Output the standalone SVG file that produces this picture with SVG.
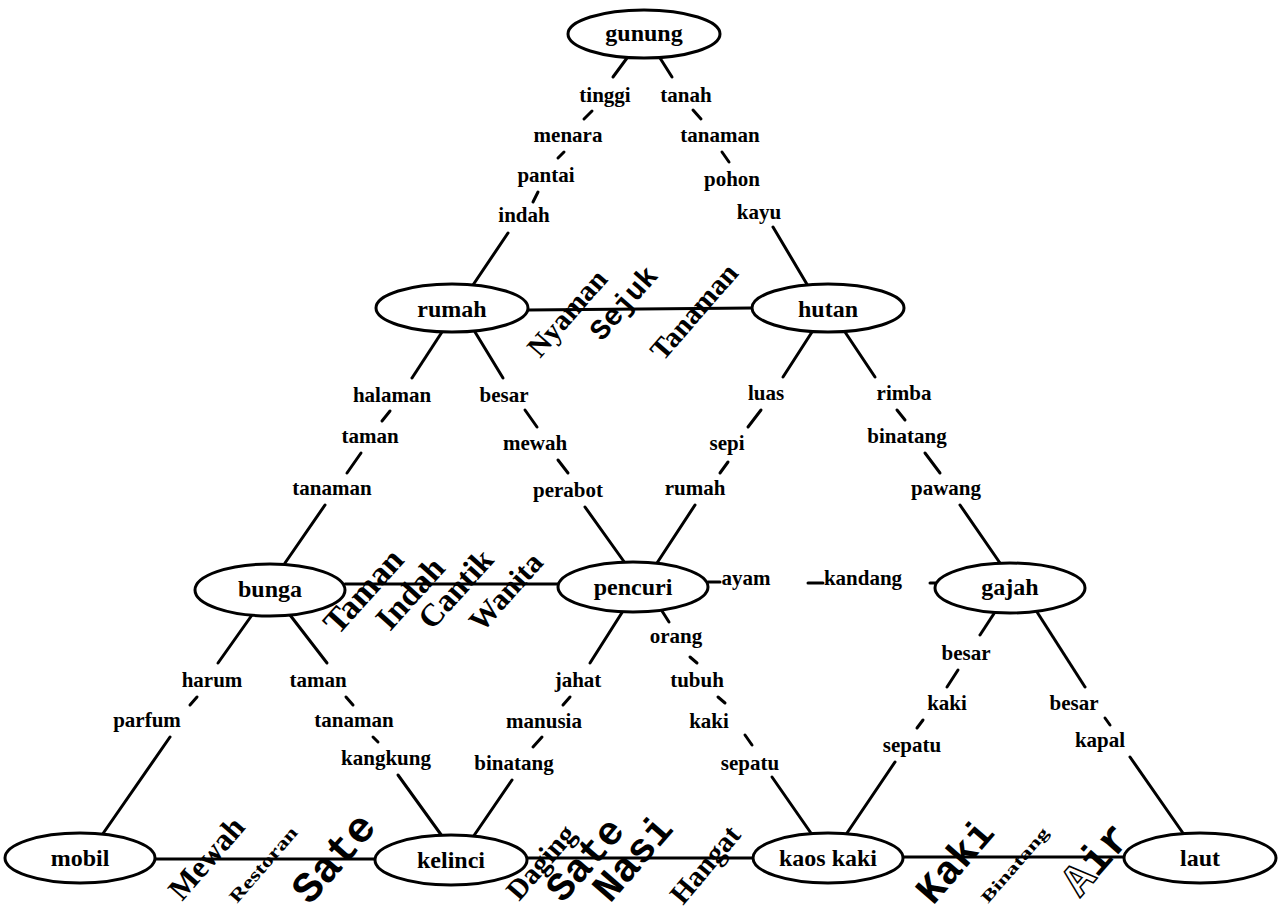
<svg xmlns="http://www.w3.org/2000/svg" width="1280" height="912" viewBox="0 0 1280 912">
<style>
.n ellipse{fill:#fff;stroke:#000;stroke-width:3}
.n text{font-family:"Liberation Serif",serif;font-weight:bold;font-size:24px;text-anchor:middle;fill:#000}
.c line{stroke:#000;stroke-width:3;stroke-linecap:round}
.w{font-family:"Liberation Serif",serif;font-weight:bold;font-size:21px;text-anchor:middle;fill:#000}
.r{font-family:"Liberation Serif",serif;font-weight:bold;fill:#000}
.m{font-family:"Liberation Mono",monospace;font-weight:bold;fill:#000}
</style>
<rect width="1280" height="912" fill="#fff"/>
<g class="c" id="connectors">
<line x1="528" y1="310" x2="752" y2="308"/>
<line x1="345" y1="584" x2="558" y2="584"/>
<line x1="708" y1="582" x2="720" y2="582"/>
<line x1="808" y1="583" x2="823" y2="583"/>
<line x1="930" y1="583" x2="936" y2="583"/>
<line x1="155" y1="859" x2="375" y2="859"/>
<line x1="527" y1="858" x2="753" y2="858"/>
<line x1="903" y1="857" x2="1124" y2="857"/>
<line x1="627" y1="58" x2="613" y2="77"/>
<line x1="592" y1="111" x2="584" y2="119"/>
<line x1="564" y1="152" x2="558" y2="158"/>
<line x1="538" y1="192" x2="533" y2="202"/>
<line x1="508" y1="233" x2="473" y2="285"/>
<line x1="660" y1="58" x2="672" y2="77"/>
<line x1="693" y1="110" x2="701" y2="119"/>
<line x1="722" y1="152" x2="729" y2="162"/>
<line x1="773" y1="227" x2="808" y2="286"/>
<line x1="442" y1="332" x2="412" y2="378"/>
<line x1="390" y1="411" x2="382" y2="421"/>
<line x1="361" y1="453" x2="347" y2="473"/>
<line x1="325" y1="505" x2="285" y2="563"/>
<line x1="475" y1="332" x2="503" y2="378"/>
<line x1="525" y1="410" x2="537" y2="427"/>
<line x1="558" y1="460" x2="568" y2="473"/>
<line x1="585" y1="507" x2="625" y2="563"/>
<line x1="812" y1="332" x2="783" y2="377"/>
<line x1="761" y1="410" x2="748" y2="427"/>
<line x1="728" y1="462" x2="720" y2="473"/>
<line x1="695" y1="505" x2="657" y2="563"/>
<line x1="845" y1="332" x2="875" y2="377"/>
<line x1="897" y1="410" x2="905" y2="420"/>
<line x1="925" y1="453" x2="940" y2="473"/>
<line x1="960" y1="505" x2="1000" y2="563"/>
<line x1="252" y1="615" x2="218" y2="663"/>
<line x1="197" y1="697" x2="190" y2="705"/>
<line x1="170" y1="737" x2="102" y2="835"/>
<line x1="290" y1="615" x2="327" y2="663"/>
<line x1="346" y1="697" x2="353" y2="705"/>
<line x1="373" y1="737" x2="378" y2="742"/>
<line x1="398" y1="775" x2="442" y2="836"/>
<line x1="623" y1="611" x2="590" y2="663"/>
<line x1="570" y1="697" x2="563" y2="705"/>
<line x1="542" y1="737" x2="533" y2="747"/>
<line x1="512" y1="780" x2="473" y2="837"/>
<line x1="662" y1="611" x2="669" y2="622"/>
<line x1="690" y1="657" x2="697" y2="663"/>
<line x1="718" y1="697" x2="725" y2="703"/>
<line x1="745" y1="735" x2="752" y2="745"/>
<line x1="772" y1="777" x2="813" y2="836"/>
<line x1="995" y1="612" x2="980" y2="635"/>
<line x1="958" y1="670" x2="947" y2="687"/>
<line x1="923" y1="720" x2="917" y2="728"/>
<line x1="895" y1="762" x2="845" y2="836"/>
<line x1="1037" y1="612" x2="1085" y2="687"/>
<line x1="1105" y1="718" x2="1110" y2="725"/>
<line x1="1130" y1="757" x2="1185" y2="836"/>
</g>
<g id="node-gunung" class="n"><ellipse cx="644" cy="34" rx="76" ry="24"/><text x="644" y="41">gunung</text></g>
<g id="node-rumah" class="n"><ellipse cx="452" cy="308" rx="76" ry="24"/><text x="452" y="317">rumah</text></g>
<g id="node-hutan" class="n"><ellipse cx="828" cy="308" rx="76" ry="24"/><text x="828" y="317">hutan</text></g>
<g id="node-bunga" class="n"><ellipse cx="270" cy="590" rx="75" ry="26"/><text x="270" y="597">bunga</text></g>
<g id="node-pencuri" class="n"><ellipse cx="633" cy="587" rx="75" ry="25"/><text x="633" y="595">pencuri</text></g>
<g id="node-gajah" class="n"><ellipse cx="1010" cy="588" rx="75" ry="25"/><text x="1010" y="595">gajah</text></g>
<g id="node-mobil" class="n"><ellipse cx="80" cy="858" rx="75" ry="25"/><text x="80" y="866">mobil</text></g>
<g id="node-kelinci" class="n"><ellipse cx="451" cy="860" rx="76" ry="25"/><text x="451" y="868">kelinci</text></g>
<g id="node-kaoskaki" class="n"><ellipse cx="828" cy="858" rx="75" ry="25"/><text x="828" y="866">kaos kaki</text></g>
<g id="node-laut" class="n"><ellipse cx="1200" cy="858" rx="76" ry="25"/><text x="1200" y="866">laut</text></g>
<g id="labels">
<text class="w" x="605" y="102">tinggi</text>
<text class="w" x="686" y="102">tanah</text>
<text class="w" x="568" y="142">menara</text>
<text class="w" x="720" y="142">tanaman</text>
<text class="w" x="546" y="182">pantai</text>
<text class="w" x="732" y="186">pohon</text>
<text class="w" x="524" y="222">indah</text>
<text class="w" x="759" y="219">kayu</text>
<text class="w" x="392" y="402">halaman</text>
<text class="w" x="504" y="402">besar</text>
<text class="w" x="370" y="443">taman</text>
<text class="w" x="535" y="450">mewah</text>
<text class="w" x="332" y="495">tanaman</text>
<text class="w" x="568" y="497">perabot</text>
<text class="w" x="766" y="400">luas</text>
<text class="w" x="904" y="400">rimba</text>
<text class="w" x="727" y="450">sepi</text>
<text class="w" x="907" y="443">binatang</text>
<text class="w" x="695" y="495">rumah</text>
<text class="w" x="946" y="495">pawang</text>
<text class="w" x="746" y="585">ayam</text>
<text class="w" x="863" y="585">kandang</text>
<text class="w" x="212" y="687">harum</text>
<text class="w" x="318" y="687">taman</text>
<text class="w" x="147" y="727">parfum</text>
<text class="w" x="354" y="727">tanaman</text>
<text class="w" x="386" y="765">kangkung</text>
<text class="w" x="578" y="687">jahat</text>
<text class="w" x="544" y="728">manusia</text>
<text class="w" x="514" y="770">binatang</text>
<text class="w" x="676" y="643">orang</text>
<text class="w" x="697" y="687">tubuh</text>
<text class="w" x="709" y="728">kaki</text>
<text class="w" x="750" y="770">sepatu</text>
<text class="w" x="966" y="660">besar</text>
<text class="w" x="947" y="710">kaki</text>
<text class="w" x="912" y="752">sepatu</text>
<text class="w" x="1074" y="710">besar</text>
<text class="w" x="1100" y="747">kapal</text>
</g>
<g id="edge-labels">
<text class="r" font-size="29" transform="translate(540,359) rotate(-49)">Nyaman</text>
<text class="m" font-size="29" transform="translate(602,342) rotate(-49)">Sejuk</text>
<text class="r" font-size="29" transform="translate(663,362) rotate(-49)">Tanaman</text>
<text class="r" font-size="34" transform="translate(338,636) rotate(-48)">Taman</text>
<text class="r" font-size="33" transform="translate(390,632) rotate(-48)">Indah</text>
<text class="r" font-size="32" transform="translate(432,631) rotate(-48)">Cantik</text>
<text class="r" font-size="30" transform="translate(482,633) rotate(-48)">Wanita</text>
<text class="r" font-size="31" transform="translate(182,902) rotate(-49)">Mewah</text>
<text class="r" font-size="18" transform="translate(237,904) rotate(-49)" textLength="94" lengthAdjust="spacingAndGlyphs">Restoran</text>
<text class="m" font-size="43" transform="translate(310,906) rotate(-49)">Sate</text>
<text class="r" font-size="29" transform="translate(519,902) rotate(-49)">Daging</text>
<text class="m" font-size="40" transform="translate(563,904) rotate(-49)">Sate</text>
<text class="m" font-size="41" transform="translate(610,904) rotate(-49)">Nasi</text>
<text class="r" font-size="29" transform="translate(683,906) rotate(-50)">Hangat</text>
<text class="m" font-size="40" transform="translate(933,906) rotate(-49)">Kaki</text>
<text class="r" font-size="16" transform="translate(988,904) rotate(-49)" textLength="94" lengthAdjust="spacingAndGlyphs">Binatang</text>
<text class="m" font-size="44" transform="translate(1080,898) rotate(-49)"><tspan fill="#fff" stroke="#000" stroke-width="1.5">A</tspan>ir</text>
</g>
</svg>
